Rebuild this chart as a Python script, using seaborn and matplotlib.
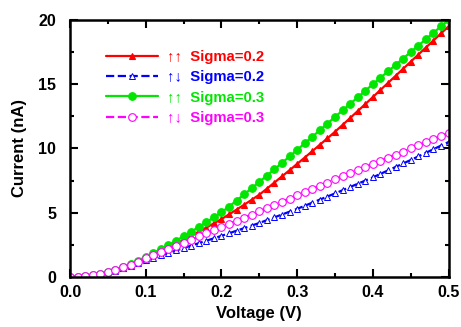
import matplotlib
matplotlib.use("Agg")
import matplotlib.pyplot as plt
from matplotlib.ticker import MultipleLocator
import seaborn as sns
import pandas as pd

# Voltage grid (V) and current readings (nA) for each configuration
voltage = [i / 100 for i in range(51)]

i_par_02 = [0.00, 0.02, 0.07, 0.14, 0.25, 0.38, 0.54, 0.73, 0.95, 1.21,
            1.50, 1.77, 2.04, 2.32, 2.61, 2.90, 3.21, 3.52, 3.84, 4.17,
            4.50, 4.87, 5.24, 5.62, 6.01, 6.40, 6.87, 7.35, 7.83, 8.31,
            8.80, 9.29, 9.79, 10.29, 10.79, 11.30, 11.83, 12.37, 12.91, 13.45,
            14.00, 14.55, 15.10, 15.65, 16.20, 16.75, 17.30, 17.85, 18.40, 18.95,
            19.50]
i_anti_02 = [0.00, 0.02, 0.06, 0.13, 0.23, 0.35, 0.50, 0.67, 0.86, 1.07,
             1.30, 1.49, 1.68, 1.87, 2.06, 2.25, 2.44, 2.63, 2.82, 3.01,
             3.20, 3.40, 3.60, 3.80, 4.00, 4.20, 4.42, 4.64, 4.86, 5.08,
             5.30, 5.54, 5.78, 6.02, 6.26, 6.50, 6.75, 7.00, 7.25, 7.50,
             7.75, 8.02, 8.29, 8.56, 8.83, 9.10, 9.38, 9.66, 9.94, 10.22,
             10.50]
i_par_03 = [0.00, 0.02, 0.07, 0.15, 0.26, 0.40, 0.57, 0.77, 1.00, 1.27,
            1.57, 1.86, 2.16, 2.48, 2.82, 3.17, 3.53, 3.89, 4.26, 4.64,
            5.03, 5.48, 5.95, 6.43, 6.91, 7.40, 7.89, 8.38, 8.88, 9.38,
            9.89, 10.40, 10.91, 11.42, 11.94, 12.45, 12.96, 13.47, 13.98, 14.49,
            15.00, 15.50, 16.00, 16.50, 17.00, 17.50, 18.00, 18.50, 19.00, 19.50,
            20.00]
i_anti_03 = [0.00, 0.02, 0.07, 0.15, 0.26, 0.40, 0.56, 0.75, 0.96, 1.20,
             1.45, 1.69, 1.93, 2.17, 2.41, 2.65, 2.90, 3.15, 3.40, 3.65,
             3.90, 4.14, 4.38, 4.62, 4.86, 5.10, 5.35, 5.60, 5.85, 6.10,
             6.35, 6.60, 6.85, 7.10, 7.35, 7.60, 7.84, 8.08, 8.32, 8.56,
             8.80, 9.04, 9.28, 9.52, 9.76, 10.00, 10.24, 10.48, 10.72, 10.96,
             11.20]

labels = ["\u2191\u2191  Sigma=0.2", "\u2191\u2193  Sigma=0.2",
          "\u2191\u2191  Sigma=0.3", "\u2191\u2193  Sigma=0.3"]

sns.set_theme(style="ticks")
plt.rcParams["font.family"] = ["Liberation Sans", "DejaVu Sans"]
plt.rcParams["font.weight"] = "bold"

fig = plt.figure(figsize=(4.61, 3.27), dpi=100)
ax = fig.add_axes([0.152, 0.153, 0.821, 0.786])

styles = [
    dict(color="#ff0000", ls="-", marker="^", ms=5, mfc="#ff0000", mew=0.8),
    dict(color="#0000ff", ls="--", marker="^", ms=4.5, mfc="white", mew=0.7),
    dict(color="#00e600", ls="-", marker="o", ms=5.5, mfc="#00e600", mew=0.8),
    dict(color="#ff00ff", ls="--", marker="o", ms=5.5, mfc="white", mew=0.8),
]
series = [i_par_02, i_anti_02, i_par_03, i_anti_03]

for vals, lab, st in zip(series, labels, styles):
    df = pd.DataFrame({"V": voltage, "I": vals})
    sns.lineplot(data=df, x="V", y="I", ax=ax, label=lab,
                 color=st["color"], linestyle=st["ls"], linewidth=1.6,
                 marker=st["marker"], markersize=st["ms"],
                 markerfacecolor=st["mfc"], markeredgecolor=st["color"],
                 markeredgewidth=st["mew"])

ax.set_xlim(0, 0.5)
ax.set_ylim(0, 20)
ax.xaxis.set_major_locator(MultipleLocator(0.1))
ax.xaxis.set_minor_locator(MultipleLocator(0.05))
ax.yaxis.set_major_locator(MultipleLocator(5))
ax.yaxis.set_minor_locator(MultipleLocator(2.5))
ax.xaxis.set_major_formatter(plt.FuncFormatter(lambda v, p: f"{v:.1f}"))
ax.yaxis.set_major_formatter(plt.FuncFormatter(lambda v, p: f"{v:.0f}"))
ax.tick_params(which="both", direction="in", top=True, right=True,
               labelsize=11.5, width=1.5, color="black", labelcolor="black")
ax.tick_params(which="major", length=6)
ax.tick_params(axis="x", which="major", pad=6)
ax.tick_params(axis="y", which="major", pad=10)
ax.tick_params(which="minor", length=3)
for lbl in ax.get_xticklabels() + ax.get_yticklabels():
    lbl.set_fontweight("bold")
for spine in ax.spines.values():
    spine.set_visible(True)
    spine.set_linewidth(1.8)
    spine.set_color("black")

ax.set_xlabel("Voltage (V)", fontsize=12, fontweight="bold", color="black", labelpad=4)
ax.set_ylabel("Current (nA)", fontsize=12, fontweight="bold", color="black", labelpad=8)

leg = ax.legend(loc="upper left", bbox_to_anchor=(0.06, 0.935), frameon=False,
                handlelength=3.5, handletextpad=0.6,
                labelspacing=0.42, labelcolor="linecolor",
                prop={"weight": "bold", "size": 10.7})

fig.savefig("out.png", dpi=100, facecolor="white")
